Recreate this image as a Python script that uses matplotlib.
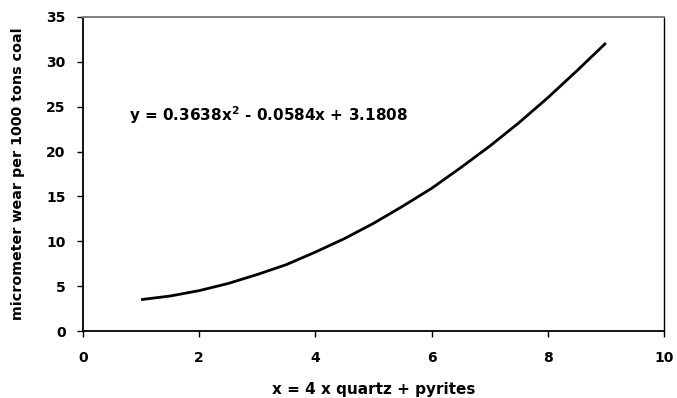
import matplotlib
matplotlib.use("Agg")
import matplotlib.pyplot as plt

# values
x_vals = [1.0, 1.5, 2.0, 2.5, 3.0, 3.5, 4.0, 4.5, 5.0, 5.5, 6.0, 6.5, 7.0, 7.5, 8.0, 8.5, 9.0]
wear = [3.5, 3.9, 4.5, 5.3, 6.3, 7.4, 8.8, 10.3, 12.0, 13.9, 15.9, 18.2, 20.6, 23.2, 26.0, 29.0, 32.1]
x_ticks = [0, 2, 4, 6, 8, 10]
y_ticks = [0, 5, 10, 15, 20, 25, 30, 35]
equation = r"y = 0.3638x$^{2}$ - 0.0584x + 3.1808"

plt.rcParams['font.family'] = ['DejaVu Sans']
plt.rcParams['font.weight'] = 'bold'
plt.rcParams['mathtext.default'] = 'bf'

fig = plt.figure(figsize=(6.77, 3.98), dpi=100)
ax = fig.add_axes([0.1226, 0.1683, 0.8582, 0.789])

ax.plot(x_vals, wear, color='black', linewidth=2.0, solid_capstyle='butt')

ax.set_xlim(0, 10)
ax.set_ylim(0, 35)
ax.set_xticks(x_ticks)
ax.set_yticks(y_ticks)
ax.tick_params(axis='both', direction='out', length=4.5, width=1, labelsize=10)
ax.tick_params(axis='y', pad=8)
ax.tick_params(axis='x', pad=10)
for lab in ax.get_xticklabels() + ax.get_yticklabels():
    lab.set_fontweight('bold')

ax.spines['top'].set_color('#808080')
ax.spines['top'].set_linewidth(1.4)
ax.spines['right'].set_color('black')
ax.spines['right'].set_linewidth(1.0)
ax.spines['left'].set_linewidth(1.3)
ax.spines['bottom'].set_linewidth(1.3)

ax.set_xlabel('x = 4 x quartz + pyrites', fontsize=11, fontweight='bold', labelpad=12)
ax.set_ylabel('micrometer wear per 1000 tons coal', fontsize=10.3, fontweight='bold', labelpad=15)

ax.text(0.8, 24.1, equation, fontsize=11, fontweight='bold', ha='left', va='center')

fig.savefig('out.png', dpi=100)
